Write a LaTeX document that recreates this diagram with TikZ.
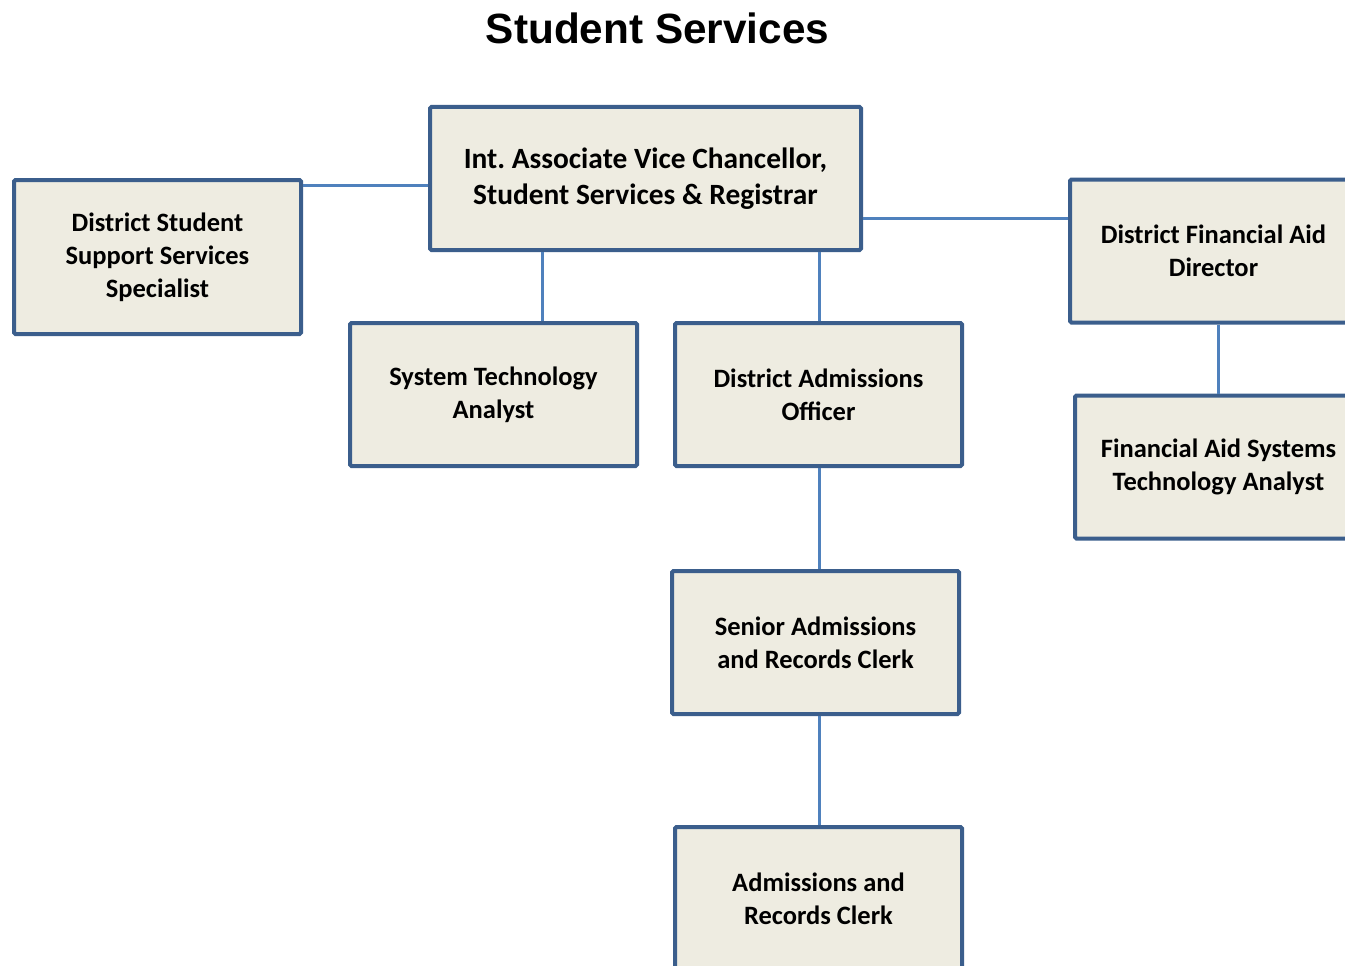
\documentclass[tikz,border=0pt]{standalone}
\usepackage{fontspec}
\setmainfont{Carlito}
\newfontfamily\titlefont{Liberation Sans}
\frenchspacing
\definecolor{boxborder}{HTML}{3B5E8C}
\definecolor{boxfill}{HTML}{EEECE1}
\definecolor{linkblue}{HTML}{4F81BD}
\begin{document}
\begin{tikzpicture}[x=1pt,y=-1pt,
  orgbox/.style={draw=boxborder, fill=boxfill, line width=4pt, rounded corners=1.5pt,
    minimum width=287pt, minimum height=143pt, inner sep=0pt, align=center,
    font=\fontsize{26.5}{33}\selectfont\bfseries},
  headbox/.style={orgbox, minimum width=431pt, font=\fontsize{29.4}{36}\selectfont\bfseries},
  link/.style={draw=linkblue, line width=3pt}]
\useasboundingbox (0,0) rectangle (1345,966);
\clip (0,0) rectangle (1345,966);
\fill[white] (0,0) rectangle (1345,966);

\node[font=\titlefont\fontsize{42.3}{50}\selectfont\bfseries] (title) at (657.5,28) {Student Services};

\node[headbox] (avc) at (645.5,178.5) {Int. Associate Vice Chancellor,\\ Student Services \& Registrar};
\node[orgbox, minimum height=154pt] (dsss) at (157.5,257) {District Student\\ Support Services\\ Specialist};
\node[orgbox] (sta) at (493.5,394.5) {System Technology\\ Analyst};
\node[orgbox] (dao) at (818.5,394.5) {District Admissions\\ Officer};
\node[orgbox] (dfad) at (1213.5,251) {District Financial Aid\\ Director};
\node[orgbox] (fast) at (1218.5,467) {Financial Aid Systems\\ Technology Analyst};
\node[orgbox] (sarc) at (815.5,642.5) {Senior Admissions\\ and Records Clerk};
\node[orgbox] (arc) at (818.5,898.5) {Admissions and\\ Records Clerk};

\draw[link] (dsss.east |- 0,185) -- (avc.west |- 0,185);
\draw[link] (avc.east |- 0,218) -- (dfad.west |- 0,218);
\draw[link] (avc.south -| 542,0) -- (sta.north -| 542,0);
\draw[link] (avc.south -| 819,0) -- (dao.north -| 819,0);
\draw[link] (dao.south -| 819,0) -- (sarc.north -| 819,0);
\draw[link] (sarc.south -| 819,0) -- (arc.north -| 819,0);
\draw[link] (dfad.south -| 1218,0) -- (fast.north -| 1218,0);
\end{tikzpicture}
\end{document}
